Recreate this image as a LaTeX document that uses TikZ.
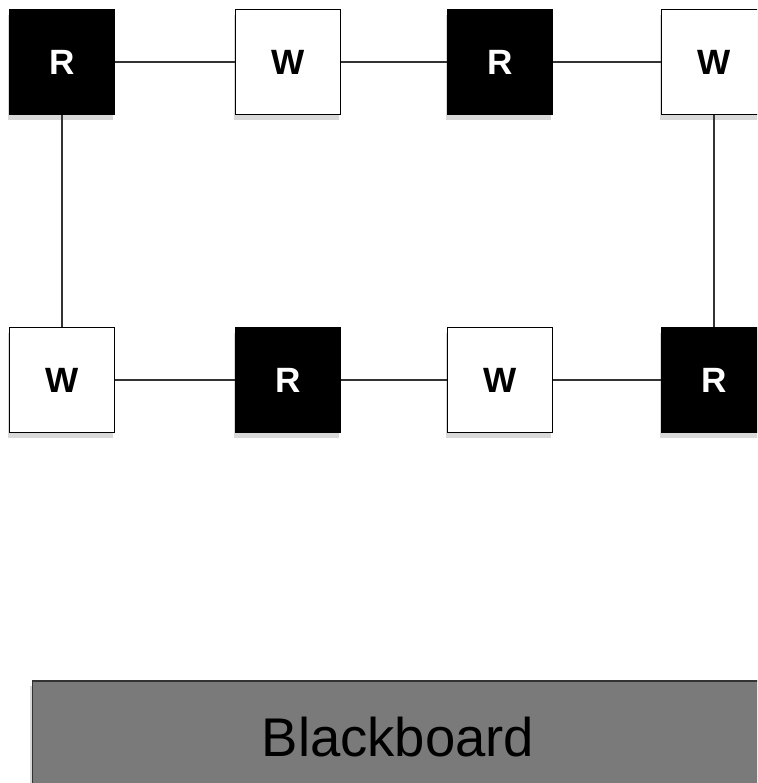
\documentclass[tikz,border=0pt]{standalone}
\usepackage{fontspec}
\setmainfont{Liberation Sans}
\usetikzlibrary{positioning, shapes, shadows}
\definecolor{boardgray}{HTML}{7A7A7A}

\begin{document}
\begin{tikzpicture} [x=0.02cm, y=-0.02cm,
  cell/.style={rectangle, draw, line width=0.6pt, minimum size=2.1cm, inner sep=0,
    font=\fontsize{20}{24}\selectfont\bfseries,
    drop shadow={shadow xshift=-1pt, shadow yshift=-3pt, opacity=0.3}},
  rd/.style={cell, fill=black, text=white},
  wr/.style={cell, fill=white},
  link/.style={draw=black!80, line width=0.6pt}]
  \useasboundingbox (0,0) rectangle (757,783);
  \clip (0,0) rectangle (757,783);

  % connectors first, the boxes go over them
  \coordinate (pA) at (62,62);
  \coordinate (pB) at (288,62);
  \coordinate (pC) at (500,62);
  \coordinate (pD) at (714,62);
  \coordinate (pE) at (62,380);
  \coordinate (pF) at (288,380);
  \coordinate (pG) at (500,380);
  \coordinate (pH) at (714,380);

  \draw (pA) node[rd](rA) {R};
  \draw (pB) node[wr](wA) {W};
  \draw (pC) node[rd](rB) {R};
  \draw (pD) node[wr](wB) {W};
  \draw (pE) node[wr](wC) {W};
  \draw (pF) node[rd](rC) {R};
  \draw (pG) node[wr](wD) {W};
  \draw (pH) node[rd](rD) {R};

  \draw (398,737) node[rectangle, draw=black!80, line width=0.6pt, fill=boardgray,
    minimum width=14.64cm, minimum height=2.24cm,
    font=\fontsize{31}{36}\selectfont,
    drop shadow={shadow xshift=-1pt, shadow yshift=-3pt, opacity=0.3}](board) {Blackboard};

\path[link] (rA) edge (wA)
            edge (wC)
      (wA) edge (rB)
      (rB) edge (wB)
      (wB) edge (rD)
      (wC) edge (rC)
      (rC) edge (wD)
      (wD) edge (rD);
\end{tikzpicture}
\end{document}
